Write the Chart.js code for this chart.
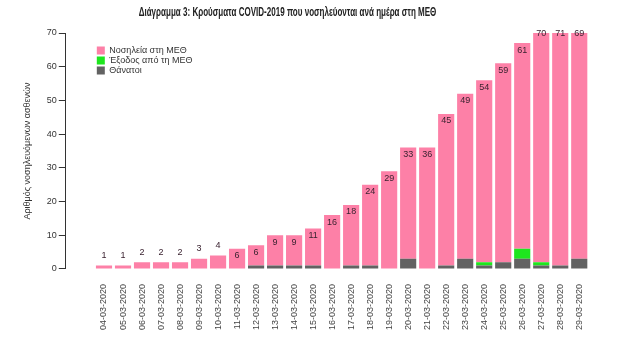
<!DOCTYPE html>
<html>
<head>
<meta charset="utf-8">
<script src="https://cdn.jsdelivr.net/npm/chart.js@4"></script>
<style>
  html, body { margin: 0; padding: 0; background: #fff; }
  #wrap { position: relative; width: 621px; height: 363px; }
  #title {
    position: absolute; left: 0; top: 5px; width: 575px; height: 16px; line-height: 16px;
    text-align: center; font: bold 12px "Liberation Sans", Arial, sans-serif; color: #222;
    transform: scaleX(0.67); transform-origin: 287.5px 0; white-space: nowrap;
  }
</style>
</head>
<body>
<div id="wrap">
  <div id="title">Διάγραμμα 3: Κρούσματα COVID-2019 που νοσηλεύονται ανά ημέρα στη ΜΕΘ</div>
  <canvas id="icu"></canvas>
</div>
<script>
const dates = ['04-03-2020', '05-03-2020', '06-03-2020', '07-03-2020', '08-03-2020', '09-03-2020',
  '10-03-2020', '11-03-2020', '12-03-2020', '13-03-2020', '14-03-2020', '15-03-2020', '16-03-2020',
  '17-03-2020', '18-03-2020', '19-03-2020', '20-03-2020', '21-03-2020', '22-03-2020', '23-03-2020',
  '24-03-2020', '25-03-2020', '26-03-2020', '27-03-2020', '28-03-2020', '29-03-2020'];
const inIcu  = [1, 1, 2, 2, 2, 3, 4, 6, 6, 9, 9, 11, 16, 18, 24, 29, 33, 36, 45, 49, 54, 59, 61, 70, 71, 69];
const leftIcu = [0, 0, 0, 0, 0, 0, 0, 0, 0, 0, 0, 0, 0, 0, 0, 0, 0, 0, 0, 0, 1, 0, 3, 1, 0, 0];
const deaths = [0, 0, 0, 0, 0, 0, 0, 0, 1, 1, 1, 1, 0, 1, 1, 0, 3, 0, 1, 3, 1, 2, 3, 1, 1, 3];

const font = '"Liberation Sans", Arial, sans-serif';
Chart.defaults.font.family = font;
Chart.defaults.font.size = 9;
Chart.defaults.color = '#333';

// value labels on the pink part of each bar
const barLabels = {
  id: 'barLabels',
  afterDatasetsDraw(chart) {
    const ctx = chart.ctx;
    const meta = chart.getDatasetMeta(2);
    ctx.save();
    ctx.font = '9px ' + font;
    ctx.fillStyle = '#3a2230';
    ctx.textAlign = 'center';
    ctx.textBaseline = 'middle';
    meta.data.forEach((bar, i) => {
      const v = inIcu[i];
      ctx.fillText(v, bar.x, v < 5 ? bar.y - 10 : bar.y + 7);
    });
    ctx.restore();
  }
};

// legend sits inside the plot, near the top left
const placeLegend = {
  id: 'placeLegend',
  beforeDraw(chart) {
    const area = chart.chartArea;
    chart.legend.left = area.left + 30;
    chart.legend.top = area.top + 12;
  }
};

const toPoints = (arr) => arr.map((v, i) => ({ x: i, y: v }));

new Chart(document.getElementById('icu'), {
  type: 'bar',
  data: {
    datasets: [
      { label: 'Θάνατοι', data: toPoints(deaths), backgroundColor: '#626262' },
      { label: 'Έξοδος από τη ΜΕΘ', data: toPoints(leftIcu), backgroundColor: '#1ee61e' },
      { label: 'Νοσηλεία στη ΜΕΘ', data: toPoints(inIcu), backgroundColor: '#fd80a7' }
    ]
  },
  options: {
    responsive: true,
    maintainAspectRatio: false,
    animation: false,
    devicePixelRatio: 1,
    datasets: { bar: { barPercentage: 0.85, categoryPercentage: 1, borderWidth: 0 } },
    layout: { padding: { left: 22, right: 22, top: 33, bottom: 18 } },
    plugins: {
      title: { display: false },
      legend: {
        position: 'chartArea',
        align: 'start',
        reverse: true,
        labels: { boxWidth: 8, boxHeight: 8, padding: 1, font: { size: 9 }, color: '#333' }
      },
      tooltip: { enabled: false }
    },
    scales: {
      x: {
        type: 'linear',
        stacked: true,
        min: -1.47,
        max: 25.5,
        afterBuildTicks: (scale) => { scale.ticks = dates.map((d, i) => ({ value: i })); },
        ticks: {
          callback: (v) => dates[v],
          autoSkip: false,
          minRotation: 90,
          maxRotation: 90,
          padding: 15,
          color: '#444',
          font: { size: 9 }
        },
        grid: { display: false, drawTicks: false },
        border: { display: false }
      },
      y: {
        stacked: true,
        min: 0,
        max: 70,
        ticks: { stepSize: 10, padding: 2, color: '#333', font: { size: 9 } },
        grid: { drawOnChartArea: false, tickLength: 7, color: '#333' },
        border: { display: true, color: '#333' },
        title: {
          display: true,
          text: 'Αριθμός νοσηλευόμενων ασθενών',
          font: { size: 9 },
          color: '#333',
          padding: { top: 0, bottom: 12 }
        }
      }
    }
  },
  plugins: [barLabels, placeLegend]
});
</script>
</body>
</html>
